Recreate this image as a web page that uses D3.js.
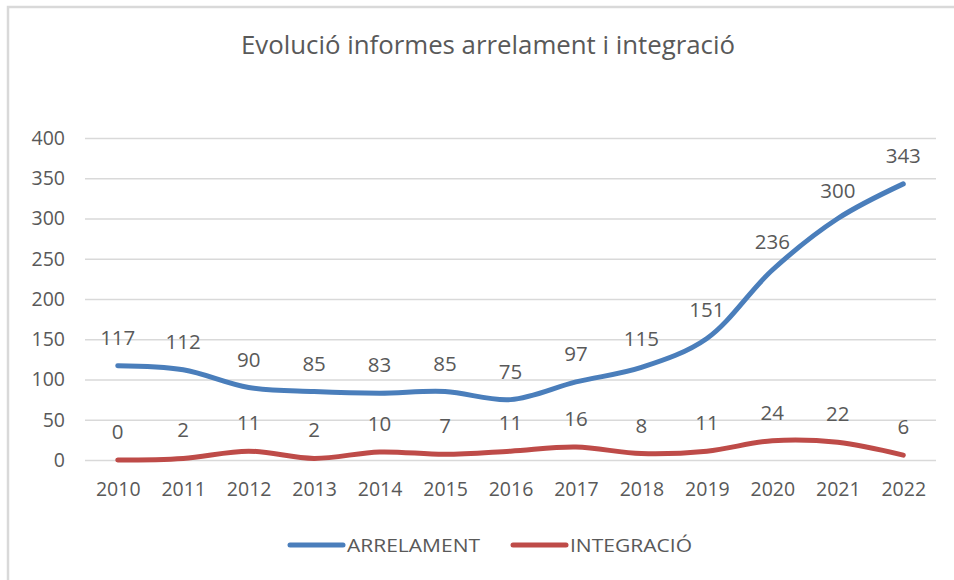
<!DOCTYPE html>
<html>
<head>
<meta charset="utf-8">
<script src="https://cdn.jsdelivr.net/npm/d3@7"></script>
<style>
  body { margin: 0; background: #fff; }
  text { font-family: "Open Sans", "Noto Sans", sans-serif; fill: #595959; }
</style>
</head>
<body>
<div class="canvas"></div>
<script>
const years = ['2010', '2011', '2012', '2013', '2014', '2015', '2016', '2017', '2018', '2019', '2020', '2021', '2022'];
const arrelament = [117, 112, 90, 85, 83, 85, 75, 97, 115, 151, 236, 300, 343];
const integracio = [0, 2, 11, 2, 10, 7, 11, 16, 8, 11, 24, 22, 6];
const yTicks = [0, 50, 100, 150, 200, 250, 300, 350, 400];

const series = [
    { name: 'ARRELAMENT', values: arrelament, colour: '#4a7ebb' },
    { name: 'INTEGRACIÓ', values: integracio, colour: '#be4b48' }
];

const dims = { width: 954, height: 580 };
const plot = { left: 85, right: 936, top: 138, bottom: 460 };

const svg = d3.select('.canvas')
    .append('svg')
    .attr('width', dims.width)
    .attr('height', dims.height)
;

// chart frame
svg.append('path')
    .attr('d', `M8,${dims.height} V7 H${dims.width}`)
    .attr('fill', 'none')
    .attr('stroke', '#d9d9d9')
    .attr('stroke-width', 2.5)
;

svg.append('text')
    .attr('x', 488)
    .attr('y', 54)
    .attr('text-anchor', 'middle')
    .attr('font-size', 25)
    .attr('textLength', 494)
    .attr('lengthAdjust', 'spacingAndGlyphs')
    .style('font-family', '"Liberation Sans Narrow", "Open Sans", sans-serif')
    .style('fill', '#595959')
    .text('Evolució informes arrelament i integració')
;

const x = d3.scalePoint()
    .domain(years)
    .range([plot.left, plot.right])
    .padding(0.5)
;

const y = d3.scaleLinear()
    .domain([0, 400])
    .range([plot.bottom, plot.top])
;

// gridlines + y labels
const yAxis = svg.append('g')
    .attr('transform', `translate(${plot.left}, 0)`)
    .call(d3.axisLeft(y).tickValues(yTicks).tickSize(-(plot.right - plot.left)).tickPadding(20))
;
yAxis.select('.domain').remove();
yAxis.selectAll('line').attr('stroke', '#d9d9d9').attr('stroke-width', 1.5);
yAxis.selectAll('text').attr('font-size', 19.5).style('fill', '#595959').style('font-family', '"Open Sans", sans-serif');

const xAxis = svg.append('g')
    .attr('transform', `translate(0, ${plot.bottom})`)
    .call(d3.axisBottom(x).tickSize(0).tickPadding(22))
;
xAxis.select('.domain').remove();
xAxis.selectAll('text').attr('font-size', 19.5).style('fill', '#595959').style('font-family', '"Open Sans", sans-serif');

const line = d3.line()
    .x((d, i) => x(years[i]))
    .y(d => y(d))
    .curve(d3.curveCatmullRom.alpha(0.5))
;

series.forEach(s => {
    svg.append('path')
        .attr('d', line(s.values))
        .attr('fill', 'none')
        .attr('stroke', s.colour)
        .attr('stroke-width', 5)
        .attr('stroke-linecap', 'round')
        .attr('stroke-linejoin', 'round')
    ;

    svg.append('g')
        .selectAll('text')
        .data(s.values)
        .enter()
        .append('text')
            .attr('x', (d, i) => x(years[i]))
            .attr('y', d => y(d) - 21)
            .attr('text-anchor', 'middle')
            .attr('font-size', 20.5)
            .text(d => d)
    ;
});

// legend
const legendItems = [
    { s: series[0], x: 290, w: 133 },
    { s: series[1], x: 513, w: 122 }
];
const legend = svg.append('g');
legendItems.forEach(item => {
    legend.append('line')
        .attr('x1', item.x)
        .attr('x2', item.x + 53)
        .attr('y1', 545)
        .attr('y2', 545)
        .attr('stroke', item.s.colour)
        .attr('stroke-width', 5)
        .attr('stroke-linecap', 'round')
    ;
    legend.append('text')
        .attr('x', item.x + 57)
        .attr('y', 552)
        .attr('font-size', 19)
        .attr('textLength', item.w)
        .attr('lengthAdjust', 'spacingAndGlyphs')
        .text(item.s.name)
    ;
});
</script>
</body>
</html>
